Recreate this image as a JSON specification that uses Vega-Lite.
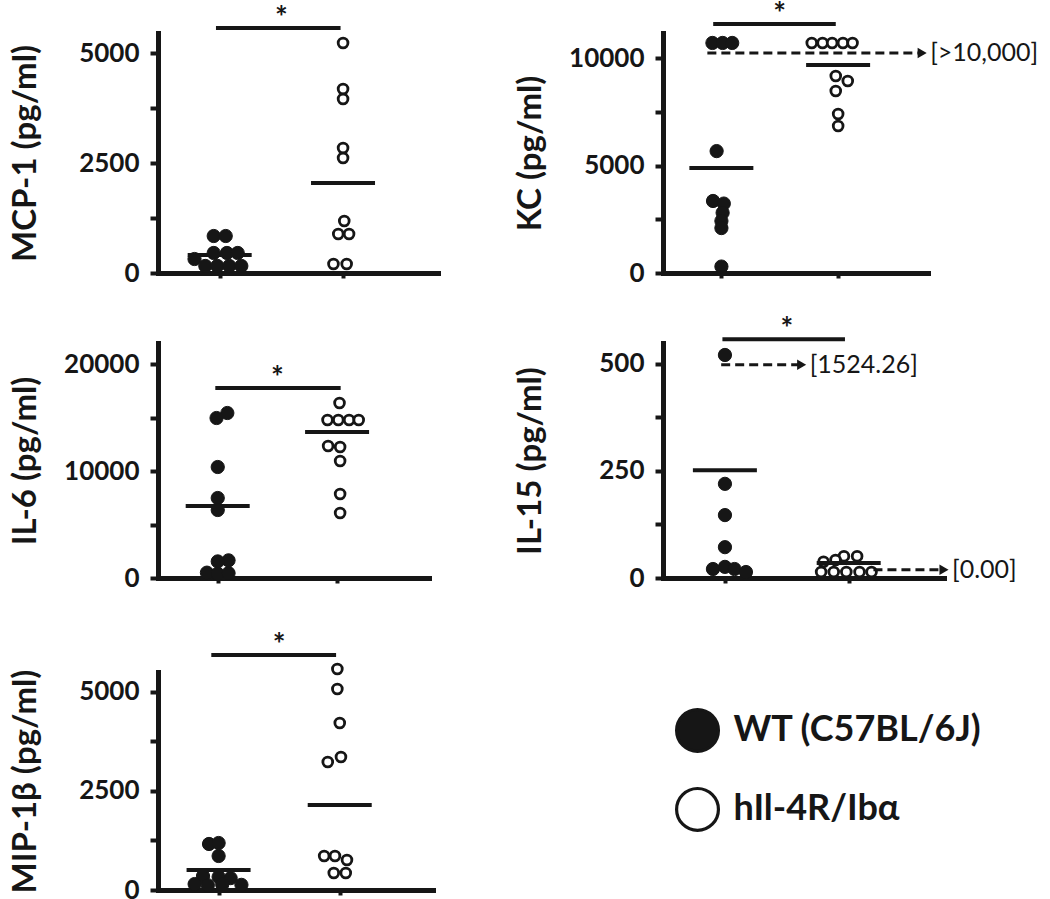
{
  "$schema": "https://vega.github.io/schema/vega-lite/v6.json",
  "background": "white",
  "padding": {"left": 9, "top": 0, "right": 5, "bottom": 5},
  "config": {
    "font": "Lato",
    "view": {"stroke": null},
    "axis": {
      "grid": false,
      "domainColor": "#161616", "domainWidth": 5, "domainCap": "square",
      "tickColor": "#161616", "tickWidth": 4, "tickSize": 8,
      "labelFont": "Lato", "labelFontWeight": "bold", "labelFontSize": 26, "labelColor": "#161616", "labelPadding": 11,
      "labelOverlap": false, "labelFlush": false,
      "titleFont": "Lato", "titleFontWeight": "bold", "titleFontSize": 33, "titleColor": "#161616"
    },
    "axisY": {"titleX": -123, "titleBaseline": "alphabetic"},
    "axisX": {"tickSize": 5, "labels": false, "title": null},
    "text": {"font": "Lato", "color": "#161616"},
    "point": {"opacity": 1},
    "tick": {"opacity": 1}
  },
  "datasets": {
    "points": [
      {"panel": "MCP-1", "group": "WT (C57BL/6J)", "col": 1, "slot": -0.5, "value": 841},
      {"panel": "MCP-1", "group": "WT (C57BL/6J)", "col": 1, "slot": 0.5, "value": 841},
      {"panel": "MCP-1", "group": "WT (C57BL/6J)", "col": 1, "slot": -0.5, "value": 455},
      {"panel": "MCP-1", "group": "WT (C57BL/6J)", "col": 1, "slot": 0.6, "value": 455},
      {"panel": "MCP-1", "group": "WT (C57BL/6J)", "col": 1, "slot": 1.5, "value": 455},
      {"panel": "MCP-1", "group": "WT (C57BL/6J)", "col": 1, "slot": -2.1, "value": 318},
      {"panel": "MCP-1", "group": "WT (C57BL/6J)", "col": 1, "slot": -1.2, "value": 160},
      {"panel": "MCP-1", "group": "WT (C57BL/6J)", "col": 1, "slot": -0.2, "value": 160},
      {"panel": "MCP-1", "group": "WT (C57BL/6J)", "col": 1, "slot": 0.8, "value": 160},
      {"panel": "MCP-1", "group": "WT (C57BL/6J)", "col": 1, "slot": 1.8, "value": 160},
      {"panel": "MCP-1", "group": "hIl-4R/Ibα", "col": 2, "slot": 0, "value": 5227},
      {"panel": "MCP-1", "group": "hIl-4R/Ibα", "col": 2, "slot": 0, "value": 4182},
      {"panel": "MCP-1", "group": "hIl-4R/Ibα", "col": 2, "slot": 0, "value": 3955},
      {"panel": "MCP-1", "group": "hIl-4R/Ibα", "col": 2, "slot": 0, "value": 2841},
      {"panel": "MCP-1", "group": "hIl-4R/Ibα", "col": 2, "slot": 0, "value": 2614},
      {"panel": "MCP-1", "group": "hIl-4R/Ibα", "col": 2, "slot": 0.1, "value": 1182},
      {"panel": "MCP-1", "group": "hIl-4R/Ibα", "col": 2, "slot": -0.4, "value": 886},
      {"panel": "MCP-1", "group": "hIl-4R/Ibα", "col": 2, "slot": 0.5, "value": 886},
      {"panel": "MCP-1", "group": "hIl-4R/Ibα", "col": 2, "slot": -0.8, "value": 205},
      {"panel": "MCP-1", "group": "hIl-4R/Ibα", "col": 2, "slot": 0.3, "value": 205},

      {"panel": "KC", "group": "WT (C57BL/6J)", "col": 1, "slot": -0.75, "value": 10700},
      {"panel": "KC", "group": "WT (C57BL/6J)", "col": 1, "slot": 0.1, "value": 10700},
      {"panel": "KC", "group": "WT (C57BL/6J)", "col": 1, "slot": 0.9, "value": 10700},
      {"panel": "KC", "group": "WT (C57BL/6J)", "col": 1, "slot": -0.4, "value": 5670},
      {"panel": "KC", "group": "WT (C57BL/6J)", "col": 1, "slot": -0.7, "value": 3350},
      {"panel": "KC", "group": "WT (C57BL/6J)", "col": 1, "slot": 0.2, "value": 3230},
      {"panel": "KC", "group": "WT (C57BL/6J)", "col": 1, "slot": 0.1, "value": 2800},
      {"panel": "KC", "group": "WT (C57BL/6J)", "col": 1, "slot": 0, "value": 2420},
      {"panel": "KC", "group": "WT (C57BL/6J)", "col": 1, "slot": 0, "value": 2090},
      {"panel": "KC", "group": "WT (C57BL/6J)", "col": 1, "slot": 0, "value": 300},
      {"panel": "KC", "group": "hIl-4R/Ibα", "col": 2, "slot": -2.2, "value": 10700},
      {"panel": "KC", "group": "hIl-4R/Ibα", "col": 2, "slot": -1.3, "value": 10700},
      {"panel": "KC", "group": "hIl-4R/Ibα", "col": 2, "slot": -0.5, "value": 10700},
      {"panel": "KC", "group": "hIl-4R/Ibα", "col": 2, "slot": 0.4, "value": 10700},
      {"panel": "KC", "group": "hIl-4R/Ibα", "col": 2, "slot": 1.2, "value": 10700},
      {"panel": "KC", "group": "hIl-4R/Ibα", "col": 2, "slot": -0.2, "value": 9163},
      {"panel": "KC", "group": "hIl-4R/Ibα", "col": 2, "slot": 0.8, "value": 8930},
      {"panel": "KC", "group": "hIl-4R/Ibα", "col": 2, "slot": -0.2, "value": 8465},
      {"panel": "KC", "group": "hIl-4R/Ibα", "col": 2, "slot": 0, "value": 7395},
      {"panel": "KC", "group": "hIl-4R/Ibα", "col": 2, "slot": 0, "value": 6837},

      {"panel": "IL-6", "group": "WT (C57BL/6J)", "col": 1, "slot": 0.8, "value": 15421},
      {"panel": "IL-6", "group": "WT (C57BL/6J)", "col": 1, "slot": -0.1, "value": 14953},
      {"panel": "IL-6", "group": "WT (C57BL/6J)", "col": 1, "slot": 0, "value": 10374},
      {"panel": "IL-6", "group": "WT (C57BL/6J)", "col": 1, "slot": 0, "value": 7477},
      {"panel": "IL-6", "group": "WT (C57BL/6J)", "col": 1, "slot": 0, "value": 6355},
      {"panel": "IL-6", "group": "WT (C57BL/6J)", "col": 1, "slot": 0.9, "value": 1650},
      {"panel": "IL-6", "group": "WT (C57BL/6J)", "col": 1, "slot": 0, "value": 1550},
      {"panel": "IL-6", "group": "WT (C57BL/6J)", "col": 1, "slot": -0.9, "value": 500},
      {"panel": "IL-6", "group": "WT (C57BL/6J)", "col": 1, "slot": 0, "value": 400},
      {"panel": "IL-6", "group": "WT (C57BL/6J)", "col": 1, "slot": 0.9, "value": 450},
      {"panel": "IL-6", "group": "hIl-4R/Ibα", "col": 2, "slot": 0.2, "value": 16355},
      {"panel": "IL-6", "group": "hIl-4R/Ibα", "col": 2, "slot": -0.8, "value": 14766},
      {"panel": "IL-6", "group": "hIl-4R/Ibα", "col": 2, "slot": 0.1, "value": 14766},
      {"panel": "IL-6", "group": "hIl-4R/Ibα", "col": 2, "slot": 1.0, "value": 14766},
      {"panel": "IL-6", "group": "hIl-4R/Ibα", "col": 2, "slot": 1.8, "value": 14766},
      {"panel": "IL-6", "group": "hIl-4R/Ibα", "col": 2, "slot": -0.75, "value": 12336},
      {"panel": "IL-6", "group": "hIl-4R/Ibα", "col": 2, "slot": 0.25, "value": 12243},
      {"panel": "IL-6", "group": "hIl-4R/Ibα", "col": 2, "slot": 0.25, "value": 10935},
      {"panel": "IL-6", "group": "hIl-4R/Ibα", "col": 2, "slot": 0.25, "value": 7850},
      {"panel": "IL-6", "group": "hIl-4R/Ibα", "col": 2, "slot": 0.25, "value": 6075},

      {"panel": "IL-15", "group": "WT (C57BL/6J)", "col": 1, "slot": 0, "value": 521},
      {"panel": "IL-15", "group": "WT (C57BL/6J)", "col": 1, "slot": 0, "value": 220},
      {"panel": "IL-15", "group": "WT (C57BL/6J)", "col": 1, "slot": 0, "value": 147},
      {"panel": "IL-15", "group": "WT (C57BL/6J)", "col": 1, "slot": 0, "value": 72},
      {"panel": "IL-15", "group": "WT (C57BL/6J)", "col": 1, "slot": -1, "value": 21},
      {"panel": "IL-15", "group": "WT (C57BL/6J)", "col": 1, "slot": 0, "value": 26},
      {"panel": "IL-15", "group": "WT (C57BL/6J)", "col": 1, "slot": 0.8, "value": 21},
      {"panel": "IL-15", "group": "WT (C57BL/6J)", "col": 1, "slot": 1.75, "value": 14},
      {"panel": "IL-15", "group": "hIl-4R/Ibα", "col": 2, "slot": -0.4, "value": 51},
      {"panel": "IL-15", "group": "hIl-4R/Ibα", "col": 2, "slot": 0.7, "value": 51},
      {"panel": "IL-15", "group": "hIl-4R/Ibα", "col": 2, "slot": -2.1, "value": 38},
      {"panel": "IL-15", "group": "hIl-4R/Ibα", "col": 2, "slot": -1.1, "value": 42},
      {"panel": "IL-15", "group": "hIl-4R/Ibα", "col": 2, "slot": -2.3, "value": 14},
      {"panel": "IL-15", "group": "hIl-4R/Ibα", "col": 2, "slot": -1.25, "value": 14},
      {"panel": "IL-15", "group": "hIl-4R/Ibα", "col": 2, "slot": -0.2, "value": 14},
      {"panel": "IL-15", "group": "hIl-4R/Ibα", "col": 2, "slot": 0.9, "value": 14},
      {"panel": "IL-15", "group": "hIl-4R/Ibα", "col": 2, "slot": 1.9, "value": 14},

      {"panel": "MIP-1β", "group": "WT (C57BL/6J)", "col": 1, "slot": -0.8, "value": 1162},
      {"panel": "MIP-1β", "group": "WT (C57BL/6J)", "col": 1, "slot": 0, "value": 1187},
      {"panel": "MIP-1β", "group": "WT (C57BL/6J)", "col": 1, "slot": 0, "value": 859},
      {"panel": "MIP-1β", "group": "WT (C57BL/6J)", "col": 1, "slot": -1.3, "value": 350},
      {"panel": "MIP-1β", "group": "WT (C57BL/6J)", "col": 1, "slot": 0, "value": 330},
      {"panel": "MIP-1β", "group": "WT (C57BL/6J)", "col": 1, "slot": 1.0, "value": 300},
      {"panel": "MIP-1β", "group": "WT (C57BL/6J)", "col": 1, "slot": -2.0, "value": 150},
      {"panel": "MIP-1β", "group": "WT (C57BL/6J)", "col": 1, "slot": -0.9, "value": 120},
      {"panel": "MIP-1β", "group": "WT (C57BL/6J)", "col": 1, "slot": 0.3, "value": 140},
      {"panel": "MIP-1β", "group": "WT (C57BL/6J)", "col": 1, "slot": 1.9, "value": 130},
      {"panel": "MIP-1β", "group": "hIl-4R/Ibα", "col": 2, "slot": -0.2, "value": 5581},
      {"panel": "MIP-1β", "group": "hIl-4R/Ibα", "col": 2, "slot": -0.2, "value": 5076},
      {"panel": "MIP-1β", "group": "hIl-4R/Ibα", "col": 2, "slot": 0, "value": 4217},
      {"panel": "MIP-1β", "group": "hIl-4R/Ibα", "col": 2, "slot": -1.0, "value": 3232},
      {"panel": "MIP-1β", "group": "hIl-4R/Ibα", "col": 2, "slot": 0.1, "value": 3359},
      {"panel": "MIP-1β", "group": "hIl-4R/Ibα", "col": 2, "slot": -1.3, "value": 859},
      {"panel": "MIP-1β", "group": "hIl-4R/Ibα", "col": 2, "slot": -0.4, "value": 859},
      {"panel": "MIP-1β", "group": "hIl-4R/Ibα", "col": 2, "slot": 0.6, "value": 758},
      {"panel": "MIP-1β", "group": "hIl-4R/Ibα", "col": 2, "slot": -0.5, "value": 429},
      {"panel": "MIP-1β", "group": "hIl-4R/Ibα", "col": 2, "slot": 0.5, "value": 429}
    ],
    "means": [
      {"panel": "MCP-1", "col": 1, "value": 409},
      {"panel": "MCP-1", "col": 2, "value": 2045},
      {"panel": "KC", "col": 1, "value": 4884},
      {"panel": "KC", "col": 2, "value": 9674},
      {"panel": "IL-6", "col": 1, "value": 6729},
      {"panel": "IL-6", "col": 2, "value": 13645},
      {"panel": "IL-15", "col": 1, "value": 252},
      {"panel": "IL-15", "col": 2, "value": 35},
      {"panel": "MIP-1β", "col": 1, "value": 505},
      {"panel": "MIP-1β", "col": 2, "value": 2146}
    ],
    "sig": [
      {"panel": "MCP-1", "from": 0.97, "to": 1.98, "value": 5568, "label": "*"},
      {"panel": "KC", "from": 0.93, "to": 1.98, "value": 11581, "label": "*"},
      {"panel": "IL-6", "from": 0.98, "to": 2.03, "value": 17757, "label": "*"},
      {"panel": "IL-15", "from": 0.98, "to": 1.97, "value": 558, "label": "*"},
      {"panel": "MIP-1β", "from": 0.94, "to": 1.97, "value": 5934, "label": "*"}
    ],
    "arrows": [
      {"panel": "KC", "from": 0.88, "to": 2.72, "value": 10233, "label": "[>10,000]"},
      {"panel": "IL-15", "from": 0.97, "to": 1.62, "value": 498, "label": "[1524.26]"},
      {"panel": "IL-15", "from": 2.2, "to": 2.77, "value": 19, "label": "[0.00]"}
    ],
    "legend": [
      {"group": "WT (C57BL/6J)"},
      {"group": "hIl-4R/Ibα"}
    ]
  },
  "bounds": "flush",
  "align": "all",
  "columns": 2,
  "spacing": {"row": 70, "column": 205},
  "concat": [
    {
      "width": 280, "height": 240,
      "resolve": {"scale": {"x": "independent"}},
      "layer": [
        {
          "data": {"name": "points"},
          "transform": [{"filter": "datum.panel === 'MCP-1'"}],
          "mark": {"type": "point", "shape": "circle", "filled": true, "stroke": "#161616"},
          "encoding": {
            "x": {"field": "col", "type": "ordinal", "scale": {"type": "point", "domain": [1, 2], "padding": 0.635, "align": 0.394}, "axis": null},
            "xOffset": {"field": "slot", "type": "quantitative", "scale": {"domain": [-5, 5], "range": [-60, 60]}},
            "y": {"field": "value", "type": "quantitative", "scale": {"domain": [0, 5455], "nice": false}, "axis": {"title": "MCP-1 (pg/ml)", "values": [0, 1250, 2500, 3750, 5000], "format": "d", "labelExpr": "datum.value % 2500 === 0 ? datum.label : ''"}},
            "fill": {"field": "group", "type": "nominal", "scale": {"domain": ["WT (C57BL/6J)", "hIl-4R/Ibα"], "range": ["#161616", "#ffffff"]}, "legend": null},
            "size": {"field": "group", "type": "nominal", "scale": {"domain": ["WT (C57BL/6J)", "hIl-4R/Ibα"], "range": [175, 95]}, "legend": null},
            "strokeWidth": {"field": "group", "type": "nominal", "scale": {"domain": ["WT (C57BL/6J)", "hIl-4R/Ibα"], "range": [1, 2.8]}, "legend": null}
          }
        },
        {
          "layer": [
            {
              "data": {"name": "means"},
              "transform": [{"filter": "datum.panel === 'MCP-1'"}],
              "mark": {"type": "tick", "orient": "horizontal", "size": 64, "thickness": 4, "color": "#161616"},
              "encoding": {"x": {"field": "col", "type": "quantitative", "scale": {"domain": [0.5, 2.77], "nice": false, "zero": false}, "axis": {"values": [1, 2]}}, "y": {"field": "value", "type": "quantitative"}}
            },
            {
              "data": {"name": "sig"},
              "transform": [{"filter": "datum.panel === 'MCP-1'"}],
              "mark": {"type": "rule", "strokeWidth": 4, "color": "#161616"},
              "encoding": {"x": {"field": "from", "type": "quantitative"}, "x2": {"field": "to"}, "y": {"field": "value", "type": "quantitative"}}
            },
            {
              "data": {"name": "sig"},
              "transform": [{"filter": "datum.panel === 'MCP-1'"}],
              "mark": {"type": "text", "fontSize": 30, "fontWeight": "bold", "baseline": "alphabetic"},
              "encoding": {"x": {"datum": 1.5, "type": "quantitative"}, "y": {"field": "value", "type": "quantitative"}, "text": {"field": "label"}}
            }
          ]
        }
      ]
    },
    {
      "width": 265, "height": 240,
      "resolve": {"scale": {"x": "independent"}},
      "layer": [
        {
          "data": {"name": "points"},
          "transform": [{"filter": "datum.panel === 'KC'"}],
          "mark": {"type": "point", "shape": "circle", "filled": true, "stroke": "#161616"},
          "encoding": {
            "x": {"field": "col", "type": "ordinal", "scale": {"type": "point", "domain": [1, 2], "padding": 0.635, "align": 0.394}, "axis": null},
            "xOffset": {"field": "slot", "type": "quantitative", "scale": {"domain": [-5, 5], "range": [-60, 60]}},
            "y": {"field": "value", "type": "quantitative", "scale": {"domain": [0, 11163], "nice": false}, "axis": {"title": "KC (pg/ml)", "values": [0, 2500, 5000, 7500, 10000], "format": "d", "labelExpr": "datum.value % 5000 === 0 ? datum.label : ''"}},
            "fill": {"field": "group", "type": "nominal", "scale": {"domain": ["WT (C57BL/6J)", "hIl-4R/Ibα"], "range": ["#161616", "#ffffff"]}, "legend": null},
            "size": {"field": "group", "type": "nominal", "scale": {"domain": ["WT (C57BL/6J)", "hIl-4R/Ibα"], "range": [175, 95]}, "legend": null},
            "strokeWidth": {"field": "group", "type": "nominal", "scale": {"domain": ["WT (C57BL/6J)", "hIl-4R/Ibα"], "range": [1, 2.8]}, "legend": null}
          }
        },
        {
          "layer": [
            {
              "data": {"name": "means"},
              "transform": [{"filter": "datum.panel === 'KC'"}],
              "mark": {"type": "tick", "orient": "horizontal", "size": 64, "thickness": 4, "color": "#161616"},
              "encoding": {"x": {"field": "col", "type": "quantitative", "scale": {"domain": [0.5, 2.77], "nice": false, "zero": false}, "axis": {"values": [1, 2]}}, "y": {"field": "value", "type": "quantitative"}}
            },
            {
              "data": {"name": "sig"},
              "transform": [{"filter": "datum.panel === 'KC'"}],
              "mark": {"type": "rule", "strokeWidth": 4, "color": "#161616"},
              "encoding": {"x": {"field": "from", "type": "quantitative"}, "x2": {"field": "to"}, "y": {"field": "value", "type": "quantitative"}}
            },
            {
              "data": {"name": "sig"},
              "transform": [{"filter": "datum.panel === 'KC'"}],
              "mark": {"type": "text", "fontSize": 30, "fontWeight": "bold", "baseline": "alphabetic"},
              "encoding": {"x": {"datum": 1.5, "type": "quantitative"}, "y": {"field": "value", "type": "quantitative"}, "text": {"field": "label"}}
            },
            {
              "data": {"name": "arrows"},
              "transform": [{"filter": "datum.panel === 'KC'"}],
              "mark": {"type": "rule", "strokeWidth": 3, "strokeDash": [9, 5], "color": "#161616"},
              "encoding": {"x": {"field": "from", "type": "quantitative"}, "x2": {"field": "to"}, "y": {"field": "value", "type": "quantitative"}}
            },
            {
              "data": {"name": "arrows"},
              "transform": [{"filter": "datum.panel === 'KC'"}],
              "mark": {"type": "point", "shape": "triangle-right", "filled": true, "size": 110, "color": "#161616", "opacity": 1},
              "encoding": {"x": {"field": "to", "type": "quantitative"}, "y": {"field": "value", "type": "quantitative"}}
            },
            {
              "data": {"name": "arrows"},
              "transform": [{"filter": "datum.panel === 'KC'"}],
              "mark": {"type": "text", "fontSize": 25, "align": "left", "baseline": "middle", "dx": 8},
              "encoding": {"x": {"field": "to", "type": "quantitative"}, "y": {"field": "value", "type": "quantitative"}, "text": {"field": "label"}}
            }
          ]
        }
      ]
    },
    {
      "width": 271, "height": 235,
      "resolve": {"scale": {"x": "independent"}},
      "layer": [
        {
          "data": {"name": "points"},
          "transform": [{"filter": "datum.panel === 'IL-6'"}],
          "mark": {"type": "point", "shape": "circle", "filled": true, "stroke": "#161616"},
          "encoding": {
            "x": {"field": "col", "type": "ordinal", "scale": {"type": "point", "domain": [1, 2], "padding": 0.635, "align": 0.394}, "axis": null},
            "xOffset": {"field": "slot", "type": "quantitative", "scale": {"domain": [-5, 5], "range": [-60, 60]}},
            "y": {"field": "value", "type": "quantitative", "scale": {"domain": [0, 21963], "nice": false}, "axis": {"title": "IL-6 (pg/ml)", "values": [0, 5000, 10000, 15000, 20000], "format": "d", "labelExpr": "datum.value % 10000 === 0 ? datum.label : ''"}},
            "fill": {"field": "group", "type": "nominal", "scale": {"domain": ["WT (C57BL/6J)", "hIl-4R/Ibα"], "range": ["#161616", "#ffffff"]}, "legend": null},
            "size": {"field": "group", "type": "nominal", "scale": {"domain": ["WT (C57BL/6J)", "hIl-4R/Ibα"], "range": [175, 95]}, "legend": null},
            "strokeWidth": {"field": "group", "type": "nominal", "scale": {"domain": ["WT (C57BL/6J)", "hIl-4R/Ibα"], "range": [1, 2.8]}, "legend": null}
          }
        },
        {
          "layer": [
            {
              "data": {"name": "means"},
              "transform": [{"filter": "datum.panel === 'IL-6'"}],
              "mark": {"type": "tick", "orient": "horizontal", "size": 64, "thickness": 4, "color": "#161616"},
              "encoding": {"x": {"field": "col", "type": "quantitative", "scale": {"domain": [0.5, 2.77], "nice": false, "zero": false}, "axis": {"values": [1, 2]}}, "y": {"field": "value", "type": "quantitative"}}
            },
            {
              "data": {"name": "sig"},
              "transform": [{"filter": "datum.panel === 'IL-6'"}],
              "mark": {"type": "rule", "strokeWidth": 4, "color": "#161616"},
              "encoding": {"x": {"field": "from", "type": "quantitative"}, "x2": {"field": "to"}, "y": {"field": "value", "type": "quantitative"}}
            },
            {
              "data": {"name": "sig"},
              "transform": [{"filter": "datum.panel === 'IL-6'"}],
              "mark": {"type": "text", "fontSize": 30, "fontWeight": "bold", "baseline": "alphabetic"},
              "encoding": {"x": {"datum": 1.5, "type": "quantitative"}, "y": {"field": "value", "type": "quantitative"}, "text": {"field": "label"}}
            }
          ]
        }
      ]
    },
    {
      "width": 281, "height": 235,
      "resolve": {"scale": {"x": "independent"}},
      "layer": [
        {
          "data": {"name": "points"},
          "transform": [{"filter": "datum.panel === 'IL-15'"}],
          "mark": {"type": "point", "shape": "circle", "filled": true, "stroke": "#161616"},
          "encoding": {
            "x": {"field": "col", "type": "ordinal", "scale": {"type": "point", "domain": [1, 2], "padding": 0.635, "align": 0.394}, "axis": null},
            "xOffset": {"field": "slot", "type": "quantitative", "scale": {"domain": [-5, 5], "range": [-60, 60]}},
            "y": {"field": "value", "type": "quantitative", "scale": {"domain": [0, 549], "nice": false}, "axis": {"title": "IL-15 (pg/ml)", "values": [0, 125, 250, 375, 500], "format": "d", "labelExpr": "datum.value % 250 === 0 ? datum.label : ''"}},
            "fill": {"field": "group", "type": "nominal", "scale": {"domain": ["WT (C57BL/6J)", "hIl-4R/Ibα"], "range": ["#161616", "#ffffff"]}, "legend": null},
            "size": {"field": "group", "type": "nominal", "scale": {"domain": ["WT (C57BL/6J)", "hIl-4R/Ibα"], "range": [175, 95]}, "legend": null},
            "strokeWidth": {"field": "group", "type": "nominal", "scale": {"domain": ["WT (C57BL/6J)", "hIl-4R/Ibα"], "range": [1, 2.8]}, "legend": null}
          }
        },
        {
          "layer": [
            {
              "data": {"name": "means"},
              "transform": [{"filter": "datum.panel === 'IL-15'"}],
              "mark": {"type": "tick", "orient": "horizontal", "size": 64, "thickness": 4, "color": "#161616"},
              "encoding": {"x": {"field": "col", "type": "quantitative", "scale": {"domain": [0.5, 2.77], "nice": false, "zero": false}, "axis": {"values": [1, 2]}}, "y": {"field": "value", "type": "quantitative"}}
            },
            {
              "data": {"name": "sig"},
              "transform": [{"filter": "datum.panel === 'IL-15'"}],
              "mark": {"type": "rule", "strokeWidth": 4, "color": "#161616"},
              "encoding": {"x": {"field": "from", "type": "quantitative"}, "x2": {"field": "to"}, "y": {"field": "value", "type": "quantitative"}}
            },
            {
              "data": {"name": "sig"},
              "transform": [{"filter": "datum.panel === 'IL-15'"}],
              "mark": {"type": "text", "fontSize": 30, "fontWeight": "bold", "baseline": "alphabetic"},
              "encoding": {"x": {"datum": 1.5, "type": "quantitative"}, "y": {"field": "value", "type": "quantitative"}, "text": {"field": "label"}}
            },
            {
              "data": {"name": "arrows"},
              "transform": [{"filter": "datum.panel === 'IL-15'"}],
              "mark": {"type": "rule", "strokeWidth": 3, "strokeDash": [9, 5], "color": "#161616"},
              "encoding": {"x": {"field": "from", "type": "quantitative"}, "x2": {"field": "to"}, "y": {"field": "value", "type": "quantitative"}}
            },
            {
              "data": {"name": "arrows"},
              "transform": [{"filter": "datum.panel === 'IL-15'"}],
              "mark": {"type": "point", "shape": "triangle-right", "filled": true, "size": 110, "color": "#161616", "opacity": 1},
              "encoding": {"x": {"field": "to", "type": "quantitative"}, "y": {"field": "value", "type": "quantitative"}}
            },
            {
              "data": {"name": "arrows"},
              "transform": [{"filter": "datum.panel === 'IL-15'"}],
              "mark": {"type": "text", "fontSize": 25, "align": "left", "baseline": "middle", "dx": 8},
              "encoding": {"x": {"field": "to", "type": "quantitative"}, "y": {"field": "value", "type": "quantitative"}, "text": {"field": "label"}}
            }
          ]
        }
      ]
    },
    {
      "width": 275, "height": 237,
      "resolve": {"scale": {"x": "independent"}},
      "layer": [
        {
          "data": {"name": "points"},
          "transform": [{"filter": "datum.panel === 'MIP-1β'"}],
          "mark": {"type": "point", "shape": "circle", "filled": true, "stroke": "#161616"},
          "encoding": {
            "x": {"field": "col", "type": "ordinal", "scale": {"type": "point", "domain": [1, 2], "padding": 0.635, "align": 0.394}, "axis": null},
            "xOffset": {"field": "slot", "type": "quantitative", "scale": {"domain": [-5, 5], "range": [-60, 60]}},
            "y": {"field": "value", "type": "quantitative", "scale": {"domain": [0, 5505], "nice": false, "range": [237, 19]}, "axis": {"title": "MIP-1β (pg/ml)", "values": [0, 1250, 2500, 3750, 5000], "format": "d", "labelExpr": "datum.value % 2500 === 0 ? datum.label : ''"}},
            "fill": {"field": "group", "type": "nominal", "scale": {"domain": ["WT (C57BL/6J)", "hIl-4R/Ibα"], "range": ["#161616", "#ffffff"]}, "legend": null},
            "size": {"field": "group", "type": "nominal", "scale": {"domain": ["WT (C57BL/6J)", "hIl-4R/Ibα"], "range": [175, 95]}, "legend": null},
            "strokeWidth": {"field": "group", "type": "nominal", "scale": {"domain": ["WT (C57BL/6J)", "hIl-4R/Ibα"], "range": [1, 2.8]}, "legend": null}
          }
        },
        {
          "layer": [
            {
              "data": {"name": "means"},
              "transform": [{"filter": "datum.panel === 'MIP-1β'"}],
              "mark": {"type": "tick", "orient": "horizontal", "size": 64, "thickness": 4, "color": "#161616"},
              "encoding": {"x": {"field": "col", "type": "quantitative", "scale": {"domain": [0.5, 2.77], "nice": false, "zero": false}, "axis": {"values": [1, 2]}}, "y": {"field": "value", "type": "quantitative"}}
            },
            {
              "data": {"name": "sig"},
              "transform": [{"filter": "datum.panel === 'MIP-1β'"}],
              "mark": {"type": "rule", "strokeWidth": 4, "color": "#161616"},
              "encoding": {"x": {"field": "from", "type": "quantitative"}, "x2": {"field": "to"}, "y": {"field": "value", "type": "quantitative"}}
            },
            {
              "data": {"name": "sig"},
              "transform": [{"filter": "datum.panel === 'MIP-1β'"}],
              "mark": {"type": "text", "fontSize": 30, "fontWeight": "bold", "baseline": "alphabetic"},
              "encoding": {"x": {"datum": 1.5, "type": "quantitative"}, "y": {"field": "value", "type": "quantitative"}, "text": {"field": "label"}}
            }
          ]
        }
      ]
    },
    {
      "width": 300, "height": 237,
      "data": {"name": "legend"},
      "layer": [
        {
          "mark": {"type": "point", "shape": "circle", "filled": true, "stroke": "#161616", "strokeWidth": 3.2, "size": 1750},
          "encoding": {
            "x": {"datum": 0, "type": "quantitative", "scale": {"domain": [-0.13, 1], "nice": false, "zero": false}, "axis": null},
            "y": {"field": "group", "type": "nominal", "scale": {"type": "point", "domain": ["WT (C57BL/6J)", "hIl-4R/Ibα"], "padding": 1.032, "align": 0.49}, "axis": null},
            "fill": {"field": "group", "type": "nominal", "scale": {"domain": ["WT (C57BL/6J)", "hIl-4R/Ibα"], "range": ["#161616", "#ffffff"]}, "legend": null}
          }
        },
        {
          "mark": {"type": "text", "fontSize": 36, "fontWeight": "bold", "align": "left", "baseline": "middle", "dx": 36},
          "encoding": {
            "x": {"datum": 0, "type": "quantitative"},
            "y": {"field": "group", "type": "nominal"},
            "text": {"field": "group"}
          }
        }
      ]
    }
  ]
}
